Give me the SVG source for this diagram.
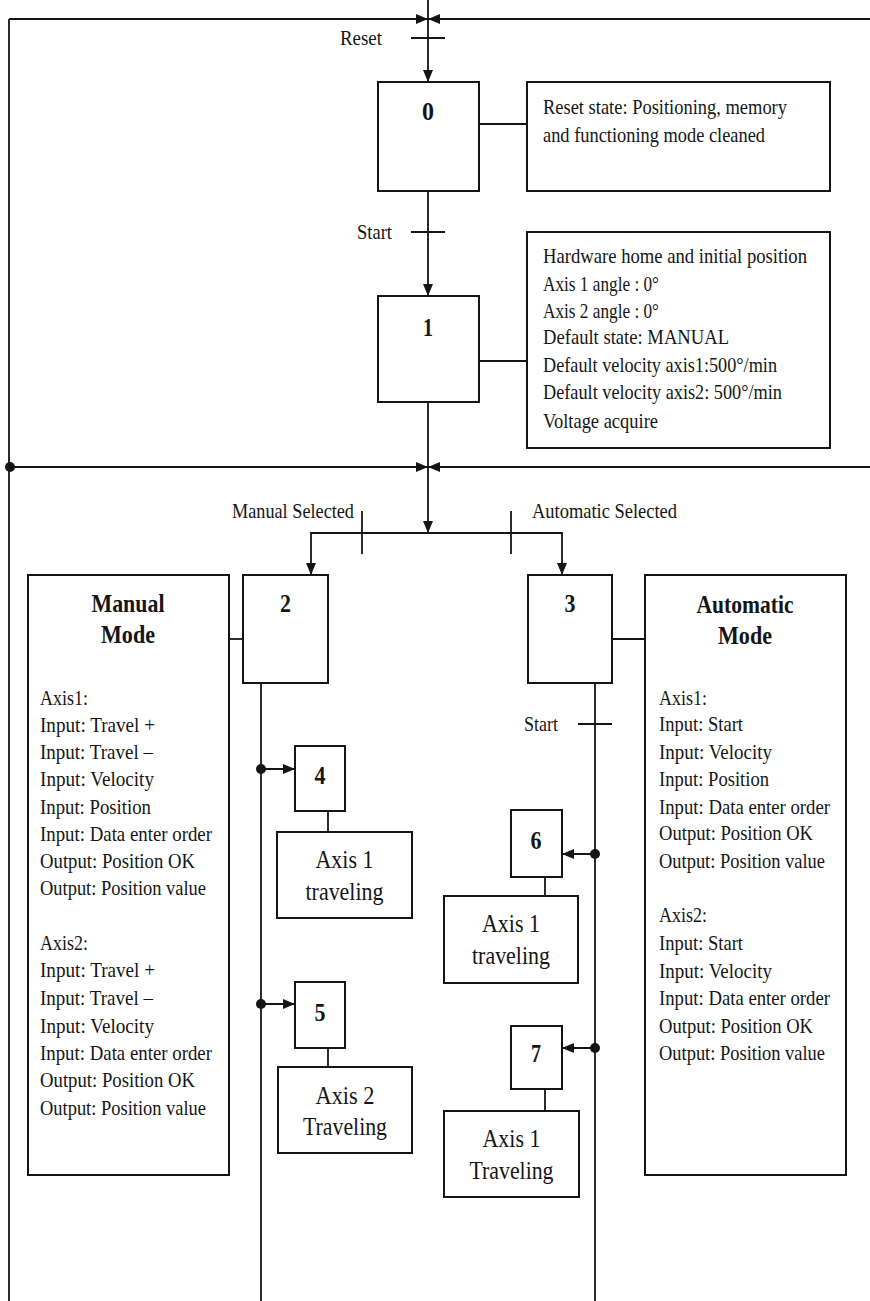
<svg xmlns="http://www.w3.org/2000/svg" width="870" height="1301" viewBox="0 0 870 1301">
  <defs>
    <style>
      .box { fill: #fff; stroke: #151515; stroke-width: 2; }
      .ln { fill: none; stroke: #151515; stroke-width: 1.8; }
      .dot { fill: #151515; }
      text { font-family: "Liberation Serif", "Times New Roman", serif; fill: #151515; }
      .t { font-size: 22px; }
      .num { font-size: 26px; font-weight: bold; text-anchor: middle; }
      .title { font-size: 26px; font-weight: bold; text-anchor: middle; }
      .lbl { font-size: 25px; text-anchor: middle; }
    </style>
    <marker id="arr" viewBox="0 0 12 10" refX="12" refY="5" markerWidth="12" markerHeight="10" orient="auto" markerUnits="userSpaceOnUse">
      <path d="M0,0 L12,5 L0,10 Z" fill="#151515"/>
    </marker>
  </defs>
  <rect width="870" height="1301" fill="#fff"/>

  <!-- connectors -->
  <g id="connectors">
    <!-- outer loop frame and top merge -->
    <path class="ln" d="M9,1301 V19"/>
    <path class="ln" d="M9,19 H428" marker-end="url(#arr)"/>
    <path class="ln" d="M870,19 H428" marker-end="url(#arr)"/>
    <path class="ln" d="M428,0 V82" marker-end="url(#arr)"/>
    <path class="ln" d="M411,38 H445"/>
    <!-- step 0 to step 1 -->
    <path class="ln" d="M428,191 V296" marker-end="url(#arr)"/>
    <path class="ln" d="M411,232 H445"/>
    <!-- step 1 down to the selection branch -->
    <path class="ln" d="M428,402 V533" marker-end="url(#arr)"/>
    <path class="ln" d="M9,467 H428" marker-end="url(#arr)"/>
    <path class="ln" d="M870,467 H428" marker-end="url(#arr)"/>
    <circle class="dot" cx="10" cy="467" r="5"/>
    <!-- selection branch -->
    <path class="ln" d="M428,533 H311 V575" marker-end="url(#arr)"/>
    <path class="ln" d="M428,533 H562 V575" marker-end="url(#arr)"/>
    <path class="ln" d="M362,511 V554"/>
    <path class="ln" d="M511,511 V554"/>
    <!-- comment links -->
    <path class="ln" d="M479,124 H527"/>
    <path class="ln" d="M479,361 H527"/>
    <path class="ln" d="M229,639 H243"/>
    <path class="ln" d="M612,639 H645"/>
    <!-- mode columns -->
    <path class="ln" d="M261,683 V1301"/>
    <path class="ln" d="M595,683 V1301"/>
    <path class="ln" d="M578,724 H612"/>
    <path class="ln" d="M261,769 H295" marker-end="url(#arr)"/>
    <path class="ln" d="M261,1004 H295" marker-end="url(#arr)"/>
    <path class="ln" d="M595,854 H562" marker-end="url(#arr)"/>
    <path class="ln" d="M595,1048 H562" marker-end="url(#arr)"/>
    <circle class="dot" cx="261" cy="769" r="5"/>
    <circle class="dot" cx="261" cy="1004" r="5"/>
    <circle class="dot" cx="595" cy="854" r="5"/>
    <circle class="dot" cx="595" cy="1048" r="5"/>
    <path class="ln" d="M328,811 V832"/>
    <path class="ln" d="M328,1048 V1067"/>
    <path class="ln" d="M545,877 V896"/>
    <path class="ln" d="M545,1089 V1111"/>
  </g>

  <!-- transition labels -->
  <g id="transitions">
    <text class="t" x="340" y="45" textLength="42" lengthAdjust="spacingAndGlyphs">Reset</text>
    <text class="t" x="357" y="239" textLength="35" lengthAdjust="spacingAndGlyphs">Start</text>
    <text class="t" x="232" y="518" textLength="122" lengthAdjust="spacingAndGlyphs">Manual Selected</text>
    <text class="t" x="532" y="518" textLength="145" lengthAdjust="spacingAndGlyphs">Automatic Selected</text>
    <text class="t" x="524" y="731" textLength="34" lengthAdjust="spacingAndGlyphs">Start</text>
  </g>

  <g id="step0">
    <rect class="box" x="378" y="82" width="101" height="109"/>
    <text class="num" x="428" y="120" textLength="12" lengthAdjust="spacingAndGlyphs">0</text>
  </g>
  <g id="note0">
    <rect class="box" x="527" y="82" width="303" height="109"/>
    <text class="t" x="543" y="114" textLength="244" lengthAdjust="spacingAndGlyphs">Reset state: Positioning, memory</text>
    <text class="t" x="543" y="142" textLength="222" lengthAdjust="spacingAndGlyphs">and functioning mode cleaned</text>
  </g>

  <g id="step1">
    <rect class="box" x="378" y="296" width="101" height="106"/>
    <text class="num" x="428" y="336" textLength="10" lengthAdjust="spacingAndGlyphs">1</text>
  </g>
  <g id="note1">
    <rect class="box" x="527" y="232" width="303" height="216"/>
    <text class="t" x="543" y="263" textLength="264" lengthAdjust="spacingAndGlyphs">Hardware home and initial position</text>
    <text class="t" x="543" y="291" textLength="116" lengthAdjust="spacingAndGlyphs">Axis 1 angle : 0°</text>
    <text class="t" x="543" y="318" textLength="116" lengthAdjust="spacingAndGlyphs">Axis 2 angle : 0°</text>
    <text class="t" x="543" y="344" textLength="186" lengthAdjust="spacingAndGlyphs">Default state: MANUAL</text>
    <text class="t" x="543" y="372" textLength="234" lengthAdjust="spacingAndGlyphs">Default velocity axis1:500°/min</text>
    <text class="t" x="543" y="399" textLength="239" lengthAdjust="spacingAndGlyphs">Default velocity axis2: 500°/min</text>
    <text class="t" x="543" y="428" textLength="115" lengthAdjust="spacingAndGlyphs">Voltage acquire</text>
  </g>

  <g id="manual-mode">
    <rect class="box" x="28" y="575" width="201" height="600"/>
    <text class="title" x="128" y="612" textLength="73" lengthAdjust="spacingAndGlyphs">Manual</text>
    <text class="title" x="128" y="643" textLength="54" lengthAdjust="spacingAndGlyphs">Mode</text>
    <text class="t" x="40" y="705" textLength="48" lengthAdjust="spacingAndGlyphs">Axis1:</text>
    <text class="t" x="40" y="732" textLength="115" lengthAdjust="spacingAndGlyphs">Input: Travel +</text>
    <text class="t" x="40" y="759" textLength="113" lengthAdjust="spacingAndGlyphs">Input: Travel –</text>
    <text class="t" x="40" y="786" textLength="114" lengthAdjust="spacingAndGlyphs">Input: Velocity</text>
    <text class="t" x="40" y="814" textLength="111" lengthAdjust="spacingAndGlyphs">Input: Position</text>
    <text class="t" x="40" y="841" textLength="172" lengthAdjust="spacingAndGlyphs">Input: Data enter order</text>
    <text class="t" x="40" y="868" textLength="155" lengthAdjust="spacingAndGlyphs">Output: Position OK</text>
    <text class="t" x="40" y="895" textLength="166" lengthAdjust="spacingAndGlyphs">Output: Position value</text>
    <text class="t" x="40" y="950" textLength="48" lengthAdjust="spacingAndGlyphs">Axis2:</text>
    <text class="t" x="40" y="977" textLength="115" lengthAdjust="spacingAndGlyphs">Input: Travel +</text>
    <text class="t" x="40" y="1005" textLength="113" lengthAdjust="spacingAndGlyphs">Input: Travel –</text>
    <text class="t" x="40" y="1033" textLength="114" lengthAdjust="spacingAndGlyphs">Input: Velocity</text>
    <text class="t" x="40" y="1060" textLength="172" lengthAdjust="spacingAndGlyphs">Input: Data enter order</text>
    <text class="t" x="40" y="1087" textLength="155" lengthAdjust="spacingAndGlyphs">Output: Position OK</text>
    <text class="t" x="40" y="1115" textLength="166" lengthAdjust="spacingAndGlyphs">Output: Position value</text>
  </g>

  <g id="step2">
    <rect class="box" x="243" y="575" width="85" height="108"/>
    <text class="num" x="285.5" y="612" textLength="11" lengthAdjust="spacingAndGlyphs">2</text>
  </g>
  <g id="step3">
    <rect class="box" x="528" y="575" width="84" height="108"/>
    <text class="num" x="570" y="612" textLength="11" lengthAdjust="spacingAndGlyphs">3</text>
  </g>

  <g id="auto-mode">
    <rect class="box" x="645" y="575" width="201" height="600"/>
    <text class="title" x="745" y="613" textLength="97" lengthAdjust="spacingAndGlyphs">Automatic</text>
    <text class="title" x="745" y="644" textLength="54" lengthAdjust="spacingAndGlyphs">Mode</text>
    <text class="t" x="659" y="705" textLength="48" lengthAdjust="spacingAndGlyphs">Axis1:</text>
    <text class="t" x="659" y="731" textLength="84" lengthAdjust="spacingAndGlyphs">Input: Start</text>
    <text class="t" x="659" y="759" textLength="113" lengthAdjust="spacingAndGlyphs">Input: Velocity</text>
    <text class="t" x="659" y="786" textLength="110" lengthAdjust="spacingAndGlyphs">Input: Position</text>
    <text class="t" x="659" y="814" textLength="171" lengthAdjust="spacingAndGlyphs">Input: Data enter order</text>
    <text class="t" x="659" y="840" textLength="154" lengthAdjust="spacingAndGlyphs">Output: Position OK</text>
    <text class="t" x="659" y="868" textLength="166" lengthAdjust="spacingAndGlyphs">Output: Position value</text>
    <text class="t" x="659" y="922" textLength="48" lengthAdjust="spacingAndGlyphs">Axis2:</text>
    <text class="t" x="659" y="950" textLength="84" lengthAdjust="spacingAndGlyphs">Input: Start</text>
    <text class="t" x="659" y="978" textLength="113" lengthAdjust="spacingAndGlyphs">Input: Velocity</text>
    <text class="t" x="659" y="1005" textLength="171" lengthAdjust="spacingAndGlyphs">Input: Data enter order</text>
    <text class="t" x="659" y="1033" textLength="154" lengthAdjust="spacingAndGlyphs">Output: Position OK</text>
    <text class="t" x="659" y="1060" textLength="166" lengthAdjust="spacingAndGlyphs">Output: Position value</text>
  </g>

  <g id="step4">
    <rect class="box" x="295" y="746" width="50" height="65"/>
    <text class="num" x="320" y="784" textLength="11" lengthAdjust="spacingAndGlyphs">4</text>
  </g>
  <g id="action4">
    <rect class="box" x="277" y="832" width="135" height="86"/>
    <text class="lbl" x="344.5" y="868" textLength="58" lengthAdjust="spacingAndGlyphs">Axis 1</text>
    <text class="lbl" x="344.5" y="900" textLength="78" lengthAdjust="spacingAndGlyphs">traveling</text>
  </g>

  <g id="step5">
    <rect class="box" x="295" y="982" width="50" height="66"/>
    <text class="num" x="320" y="1021" textLength="11" lengthAdjust="spacingAndGlyphs">5</text>
  </g>
  <g id="action5">
    <rect class="box" x="278" y="1067" width="134" height="86"/>
    <text class="lbl" x="345" y="1104" textLength="59" lengthAdjust="spacingAndGlyphs">Axis 2</text>
    <text class="lbl" x="345" y="1135" textLength="84" lengthAdjust="spacingAndGlyphs">Traveling</text>
  </g>

  <g id="step6">
    <rect class="box" x="511" y="810" width="51" height="67"/>
    <text class="num" x="536" y="849" textLength="11" lengthAdjust="spacingAndGlyphs">6</text>
  </g>
  <g id="action6">
    <rect class="box" x="444" y="896" width="134" height="87"/>
    <text class="lbl" x="511" y="932" textLength="58" lengthAdjust="spacingAndGlyphs">Axis 1</text>
    <text class="lbl" x="511" y="964" textLength="78" lengthAdjust="spacingAndGlyphs">traveling</text>
  </g>

  <g id="step7">
    <rect class="box" x="511" y="1026" width="51" height="63"/>
    <text class="num" x="536" y="1062" textLength="10" lengthAdjust="spacingAndGlyphs">7</text>
  </g>
  <g id="action7">
    <rect class="box" x="444" y="1111" width="135" height="86"/>
    <text class="lbl" x="511.5" y="1147" textLength="58" lengthAdjust="spacingAndGlyphs">Axis 1</text>
    <text class="lbl" x="511.5" y="1179" textLength="84" lengthAdjust="spacingAndGlyphs">Traveling</text>
  </g>
</svg>
